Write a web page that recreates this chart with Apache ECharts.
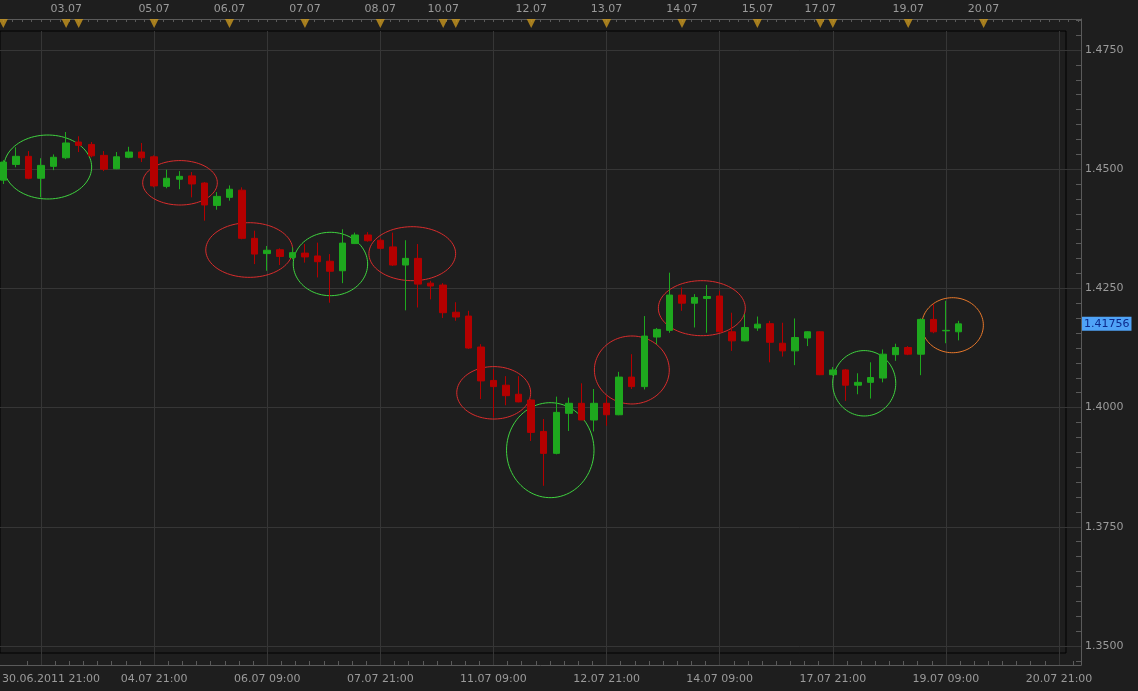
<!DOCTYPE html>
<html><head><meta charset="utf-8">
<script src="https://cdn.jsdelivr.net/npm/echarts@6/dist/echarts.min.js"></script>
<style>html,body{margin:0;padding:0;background:#1e1e1e;}#c{width:1138px;height:691px;}</style>
</head><body><div id="c"></div>
<script>
// ---- data (4h candles, index = bar number) ----
const opens = [1.4477,1.4510,1.4527,1.4481,1.4506,1.4524,1.4557,1.4552,1.4529,1.4501,
1.4525,1.4536,1.4526,1.4464,1.4479,1.4486,1.4471,1.4424,1.4441,1.4456,
1.4355,1.4323,1.4331,1.4315,1.4324,1.4318,1.4307,1.4287,1.4344,1.4362,
1.4351,1.4337,1.4299,1.4313,1.4261,1.4257,1.4200,1.4192,1.4127,1.4057,
1.4047,1.4028,1.4016,1.3950,1.3904,1.3988,1.4009,1.3974,1.4009,1.3985,
1.4064,1.4044,1.4148,1.4162,1.4236,1.4219,1.4229,1.4234,1.4159,1.4140,
1.4167,1.4176,1.4135,1.4119,1.4146,1.4159,1.4069,1.4079,1.4047,1.4053,
1.4062,1.4111,1.4126,1.4112,1.4185,1.4161,1.4159];
const closes = [1.4515,1.4527,1.4481,1.4508,1.4525,1.4555,1.4550,1.4528,1.4500,1.4526,
1.4536,1.4524,1.4465,1.4481,1.4485,1.4469,1.4425,1.4443,1.4458,1.4355,
1.4322,1.4330,1.4317,1.4325,1.4316,1.4306,1.4286,1.4345,1.4362,1.4350,
1.4334,1.4299,1.4313,1.4259,1.4255,1.4199,1.4190,1.4125,1.4056,1.4044,
1.4025,1.4012,1.3948,1.3904,1.3990,1.4009,1.3974,1.4009,1.3985,1.4064,
1.4044,1.4150,1.4164,1.4236,1.4219,1.4231,1.4233,1.4159,1.4140,1.4168,
1.4175,1.4137,1.4119,1.4147,1.4159,1.4069,1.4079,1.4047,1.4053,1.4063,
1.4112,1.4126,1.4112,1.4185,1.4159,1.4162,1.41756];
const lows = [1.4469,1.4504,1.4479,1.4441,1.4498,1.4521,1.4536,1.4525,1.4496,1.4500,
1.4523,1.4515,1.4462,1.4460,1.4458,1.4441,1.4392,1.4415,1.4434,1.4353,
1.4301,1.4287,1.4299,1.4311,1.4304,1.4273,1.4220,1.4261,1.4343,1.4348,
1.4332,1.4297,1.4204,1.4210,1.4227,1.4188,1.4182,1.4123,1.4018,1.3980,
1.4005,1.4011,1.3930,1.3836,1.3902,1.3951,1.3974,1.3950,1.3962,1.3984,
1.4039,1.4038,1.4133,1.4157,1.4203,1.4168,1.4157,1.4158,1.4119,1.4139,
1.4161,1.4095,1.4107,1.4089,1.4129,1.4068,1.4067,1.4014,1.4028,1.4019,
1.4053,1.4098,1.4110,1.4068,1.4156,1.4135,1.4141];
const highs = [1.4519,1.4546,1.4538,1.4523,1.4531,1.4578,1.4569,1.4557,1.4538,1.4536,
1.4547,1.4555,1.4529,1.4499,1.4496,1.4494,1.4473,1.4452,1.4466,1.4462,
1.4371,1.4339,1.4334,1.4336,1.4343,1.4346,1.4322,1.4374,1.4367,1.4368,
1.4355,1.4367,1.4351,1.4343,1.4266,1.4261,1.4221,1.4203,1.4133,1.4081,
1.4066,1.4066,1.4018,1.3976,1.4023,1.4021,1.4051,1.4039,1.4025,1.4075,
1.4112,1.4192,1.4167,1.4283,1.4252,1.4238,1.4257,1.4245,1.4199,1.4196,
1.4191,1.4182,1.4178,1.4187,1.4160,1.4160,1.4085,1.4081,1.4072,1.4095,
1.4122,1.4134,1.4129,1.4187,1.4217,1.4224,1.4182];
const lastPrice = 1.41756;

// bottom time axis (bar index -> label)
const timeTickIdx = [3,12,21,30,39,48,57,66,75,84];
const timeTickLabels = ['30.06.2011 21:00','04.07 21:00','06.07 09:00','07.07 21:00','11.07 09:00',
  '12.07 21:00','14.07 09:00','17.07 21:00','19.07 09:00','20.07 21:00'];
// top day separators
const dayMarkIdx = [0,5,6,12,18,24,30,35,36,42,48,54,60,65,66,72,78];
const dayLabelIdx = [5,12,18,24,30,35,42,48,54,60,65,72,78];
const dayLabels = ['03.07','05.07','06.07','07.07','08.07','10.07','12.07','13.07','14.07','15.07','17.07','19.07','20.07'];
// price axis
const priceTicks = [1.35,1.375,1.4,1.425,1.45,1.475];

// annotation ellipses (center bar index, center price, half-width in bars, half-height in price)
const ellipseX = [3.54,14.06,19.57,26.03,32.54,39.02,43.52,50.01,55.58,68.50,75.53];
const ellipseY = [1.45046,1.44715,1.43305,1.43012,1.43228,1.40310,1.39107,1.40789,1.42085,1.40510,1.41728];
const ellipseRX = [3.49,2.97,3.46,2.96,3.45,2.94,3.48,2.98,3.46,2.51,2.45];
const ellipseRY = [0.00671,0.00466,0.00573,0.00665,0.00566,0.00550,0.00996,0.00713,0.00577,0.00686,0.00577];
const ellipseColor = ['#3fd23f','#d82c2c','#d82c2c','#3fd23f','#d82c2c','#d82c2c','#3fd23f','#d82c2c','#d82c2c','#3fd23f','#e8782a'];

// ---- view ----
// plot frame: x 0..1066, y 31..653 ; outer axis box: x 0..1081, y 19..665
const PX_PER_BAR = 12.568, PX_PER_PRICE = 119.2 / 0.025;
const X_MIN = -0.263;
const X_MAX = X_MIN + 1066 / PX_PER_BAR;
const X_MAX_OUT = X_MIN + 1081 / PX_PER_BAR;
const Y_MAX = 1.475 + (50 - 31) / PX_PER_PRICE;
const Y_MIN = 1.475 - (653 - 50) / PX_PER_PRICE;
const Y_MAX_OUT = 1.475 + (50 - 19) / PX_PER_PRICE;
const Y_MIN_OUT = 1.475 - (665 - 50) / PX_PER_PRICE;

const FONT = 'DejaVu Sans';
const TXT = '#9a9a9a';
const GRIDC = '#363636';
const AXC = '#5a5a5a';

const minorX = [];
for (let k = -1; k <= 80; k++) { if (k % 8 !== 0) { const v = 3 + k * 9 / 8; if (v > X_MIN && v < X_MAX_OUT) minorX.push(v); } }
const minorTop = [];
for (let k = 0; k <= 120; k++) { const v = k * 0.75; if (v < X_MAX_OUT) minorTop.push(v); }
const minorY = [];
for (let k = -1; k <= 42; k++) { if (k % 8 !== 0) { const v = 1.35 + k * 0.003125; if (v > Y_MIN_OUT && v < Y_MAX_OUT) minorY.push(+v.toFixed(6)); } }

const candleData = opens.map((o, i) => [i, o, closes[i], lows[i], highs[i]]);
const ellipseData = ellipseX.map((x, i) => [x, ellipseY[i], ellipseRX[i], ellipseRY[i]]);

const lbl = {color: TXT, fontSize: 11, fontFamily: FONT};
const chart = echarts.init(document.getElementById('c'), null, {renderer: 'canvas'});
chart.setOption({
  animation: false,
  backgroundColor: '#1e1e1e',
  grid: [
    // 0: plot frame
    {left: 0, top: 31, right: 72, bottom: 38, show: true, borderColor: '#000', borderWidth: 1, backgroundColor: 'transparent', containLabel: false, outerBoundsMode: 'none'},
    // 1: outer axis box
    {left: 0, top: 19, right: 57, bottom: 26, show: false, containLabel: false, outerBoundsMode: 'none'},
    // 2: top marker strip
    {left: 0, top: 19, right: 72, height: 12, show: false, containLabel: false, outerBoundsMode: 'none'}
  ],
  xAxis: [
    {gridIndex: 0, type: 'value', min: X_MIN, max: X_MAX,
      axisLine: {show: false, onZero: false}, axisTick: {show: false, customValues: timeTickIdx}, axisLabel: {show: false},
      splitLine: {show: true, lineStyle: {color: GRIDC, width: 1}}},
    {gridIndex: 1, type: 'value', min: X_MIN, max: X_MAX_OUT, position: 'bottom',
      axisLine: {show: true, onZero: false, lineStyle: {color: AXC}},
      axisTick: {show: true, customValues: timeTickIdx, inside: true, length: 13, lineStyle: {color: GRIDC}},
      splitLine: {show: false},
      axisLabel: Object.assign({show: true, customValues: timeTickIdx, margin: 9,
        formatter: (v) => { const i = timeTickIdx.indexOf(Math.round(v)); const s = i >= 0 ? timeTickLabels[i] : ''; return i === 0 ? '{f|' + s + '}' : s; },
        rich: {f: Object.assign({padding: [0, 0, 0, 20]}, lbl)}}, lbl)},
    {gridIndex: 1, type: 'value', min: X_MIN, max: X_MAX_OUT, position: 'bottom',
      axisLine: {show: false, onZero: false},
      axisTick: {show: true, customValues: minorX, inside: true, length: 4, lineStyle: {color: AXC}},
      splitLine: {show: false}, axisLabel: {show: false}},
    {gridIndex: 1, type: 'value', min: X_MIN, max: X_MAX_OUT, position: 'top',
      axisLine: {show: true, onZero: false, lineStyle: {color: AXC}},
      axisTick: {show: true, customValues: minorTop, inside: true, length: 3, lineStyle: {color: AXC}},
      splitLine: {show: false},
      axisLabel: Object.assign({show: true, customValues: dayLabelIdx, margin: 4,
        formatter: (v) => { const i = dayLabelIdx.indexOf(Math.round(v)); return i >= 0 ? dayLabels[i] : ''; }}, lbl)},
    {gridIndex: 2, type: 'value', min: X_MIN, max: X_MAX, show: false, axisLine: {onZero: false}}
  ],
  yAxis: [
    {gridIndex: 0, type: 'value', min: Y_MIN, max: Y_MAX,
      axisLine: {show: false, onZero: false}, axisTick: {show: false, customValues: priceTicks}, axisLabel: {show: false},
      splitLine: {show: true, lineStyle: {color: GRIDC, width: 1}}},
    {gridIndex: 1, type: 'value', min: Y_MIN_OUT, max: Y_MAX_OUT, position: 'right',
      axisLine: {show: true, onZero: false, lineStyle: {color: AXC}},
      axisTick: {show: true, customValues: priceTicks, inside: true, length: 15, lineStyle: {color: GRIDC}},
      splitLine: {show: false},
      axisLabel: Object.assign({show: true, customValues: priceTicks, margin: 4, formatter: (v) => v.toFixed(4)}, lbl)},
    {gridIndex: 1, type: 'value', min: Y_MIN_OUT, max: Y_MAX_OUT, position: 'right',
      axisLine: {show: false, onZero: false},
      axisTick: {show: true, customValues: minorY, inside: true, length: 5, lineStyle: {color: AXC}},
      splitLine: {show: false},
      axisLabel: {show: true, customValues: [lastPrice], margin: 1, color: '#0c2a8c', fontSize: 11, fontFamily: FONT,
        backgroundColor: '#4fa3f7', padding: [2, 2, 1, 2], formatter: (v) => v.toFixed(5)}},
    {gridIndex: 2, type: 'value', min: 0, max: 1, show: false, axisLine: {onZero: false}}
  ],
  series: [
    {type: 'candlestick', xAxisIndex: 0, yAxisIndex: 0, data: candleData,
      encode: {x: 0, y: [1, 2, 3, 4]}, barWidth: 7, clip: true,
      itemStyle: {color: '#1ea81e', color0: '#b40000', borderColor: '#1ea81e', borderColor0: '#b40000', borderColorDoji: '#1ea81e', borderWidth: 1}
    },
    {type: 'custom', xAxisIndex: 0, yAxisIndex: 0, data: ellipseData, silent: true,
      dimensions: ['x', 'y', 'rx', 'ry'], encode: {x: 0, y: 1},
      renderItem: (params, api) => {
        const cx = api.value(0), cy = api.value(1);
        const c = api.coord([cx, cy]);
        const s = api.size([api.value(2) * 2, api.value(3) * 2], [cx, cy]);
        const pts = [];
        for (let k = 0; k < 90; k++) { const t = k / 90 * Math.PI * 2; pts.push([c[0] + s[0] / 2 * Math.cos(t), c[1] + s[1] / 2 * Math.sin(t)]); }
        return {type: 'polygon', shape: {points: pts}, style: {fill: null, stroke: ellipseColor[params.dataIndex], lineWidth: 1}};
      }
    },
    {type: 'scatter', xAxisIndex: 4, yAxisIndex: 3, silent: true,
      data: dayMarkIdx.map(i => [i, 0.62]), symbol: 'triangle', symbolRotate: 180, symbolSize: [9, 9],
      itemStyle: {color: '#c8961e'}, clip: false
    }
  ]
});
</script>
</body></html>
